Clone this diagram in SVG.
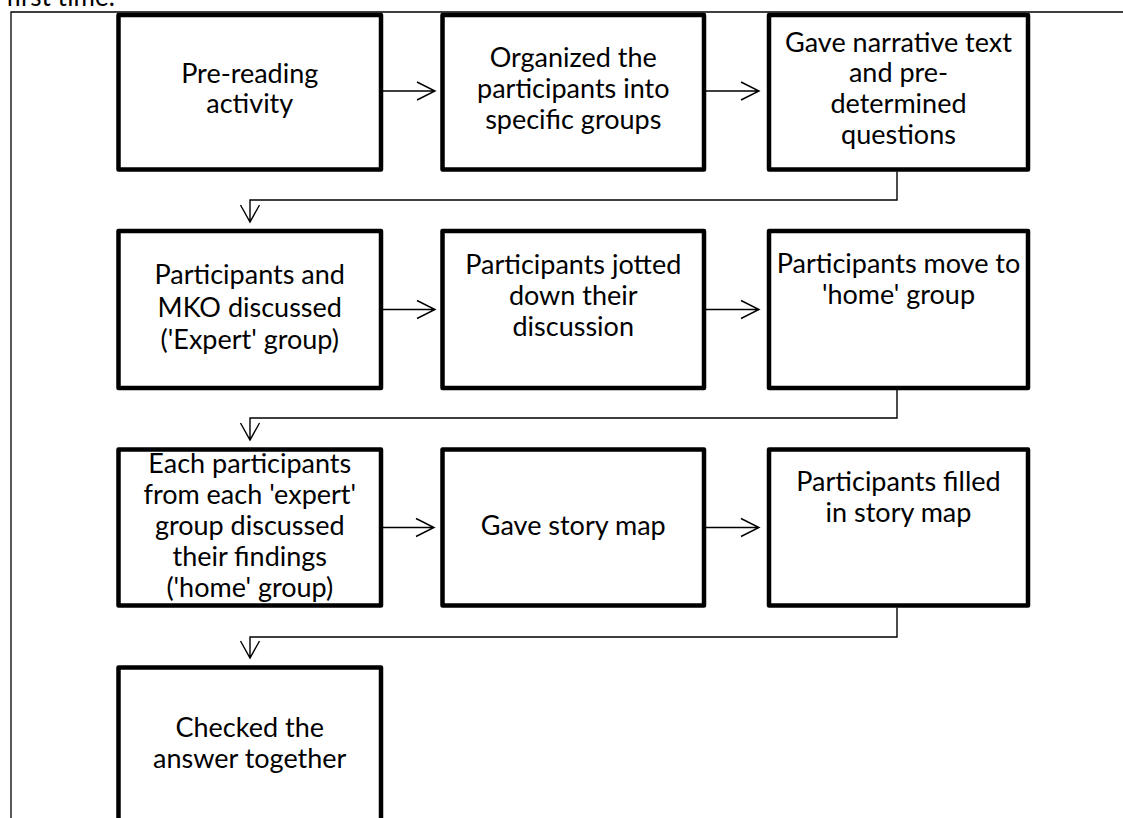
<svg xmlns="http://www.w3.org/2000/svg" width="1123" height="818" viewBox="0 0 1123 818">
<defs>
<style>
.box{fill:#fff;stroke:#000;stroke-width:4.5;stroke-linejoin:round}
.t{font-family:Lato,"Open Sans","Liberation Sans",sans-serif;font-size:27px;fill:#000;text-anchor:middle}
.c{fill:none;stroke:#000;stroke-width:1.4}
.frame{fill:none;stroke:#000;stroke-width:1.3}
</style>
</defs>
<rect width="1123" height="818" fill="#fff"/>
<text x="6" y="6" font-family="Lato,'Liberation Sans',sans-serif" font-size="26" fill="#000">first time.</text>
<path class="frame" d="M11,818 V12 H1123"/>
<g id="connectors">
<path class="c" d="M383,91 H435 M417,82 L435,91 L417,100"/>
<path class="c" d="M706,91 H759 M741,82 L759,91 L741,100"/>
<path class="c" d="M897,171.5 V200 H250 V222 M240.5,205 L250,222 L259.5,205"/>
<path class="c" d="M383,309.5 H435 M417,300.5 L435,309.5 L417,318.5"/>
<path class="c" d="M706,309.5 H759 M741,300.5 L759,309.5 L741,318.5"/>
<path class="c" d="M897,390 V418 H250 V440 M240.5,423 L250,440 L259.5,423"/>
<path class="c" d="M383,527.5 H434 M416,518.5 L434,527.5 L416,536.5"/>
<path class="c" d="M706,527.5 H759 M741,518.5 L759,527.5 L741,536.5"/>
<path class="c" d="M897,607.5 V637 H250 V658 M240.5,641 L250,658 L259.5,641"/>
</g>
<g id="n1"><rect class="box" x="118.5" y="15" width="262.5" height="154.5"/>
<text class="t" x="249.75" y="83">Pre-reading</text><text class="t" x="249.75" y="113">activity</text></g>
<g id="n2"><rect class="box" x="442.5" y="15" width="261.5" height="154.5"/>
<text class="t" x="573.25" y="67">Organized the</text><text class="t" x="573.25" y="98">participants into</text><text class="t" x="573.25" y="129">specific groups</text></g>
<g id="n3"><rect class="box" x="769" y="15" width="259" height="154.5"/>
<text class="t" x="898.5" y="52">Gave narrative text</text><text class="t" x="898.5" y="82">and pre-</text><text class="t" x="898.5" y="113">determined</text><text class="t" x="898.5" y="144">questions</text></g>
<g id="n4"><rect class="box" x="118.5" y="231" width="262.5" height="157"/>
<text class="t" x="249.75" y="284">Participants and</text><text class="t" x="249.75" y="317">MKO discussed</text><text class="t" x="249.75" y="349">('Expert' group)</text></g>
<g id="n5"><rect class="box" x="442.5" y="231" width="261.5" height="157"/>
<text class="t" x="573.25" y="274">Participants jotted</text><text class="t" x="573.25" y="305">down their</text><text class="t" x="573.25" y="336">discussion</text></g>
<g id="n6"><rect class="box" x="769" y="231" width="259" height="157"/>
<text class="t" x="898.5" y="273">Participants move to</text><text class="t" x="898.5" y="304">'home' group</text></g>
<g id="n7"><rect class="box" x="118.5" y="449.5" width="262.5" height="156"/>
<text class="t" x="249.75" y="472.5">Each participants</text><text class="t" x="249.75" y="503.5">from each 'expert'</text><text class="t" x="249.75" y="534.5">group discussed</text><text class="t" x="249.75" y="566">their findings</text><text class="t" x="249.75" y="597">('home' group)</text></g>
<g id="n8"><rect class="box" x="442.5" y="449.5" width="261.5" height="156"/>
<text class="t" x="573.25" y="535">Gave story map</text></g>
<g id="n9"><rect class="box" x="769" y="449.5" width="259" height="156"/>
<text class="t" x="898.5" y="491">Participants filled</text><text class="t" x="898.5" y="522">in story map</text></g>
<g id="n10"><rect class="box" x="118.5" y="667.5" width="262.5" height="200"/>
<text class="t" x="249.75" y="737">Checked the</text><text class="t" x="249.75" y="768">answer together</text></g>
</svg>
